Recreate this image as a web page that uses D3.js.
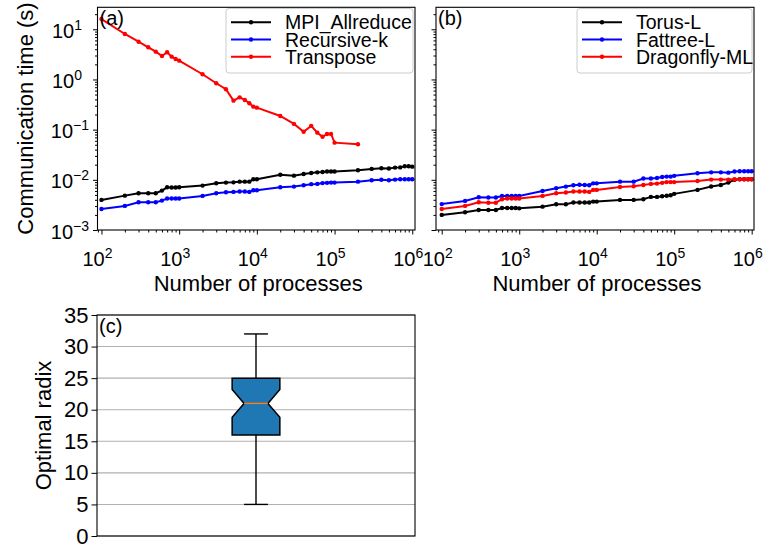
<!DOCTYPE html>
<html>
<head>
<meta charset="utf-8">
<script src="https://cdn.jsdelivr.net/npm/d3@7"></script>
<style>
  body { margin: 0; background: #fff; }
  svg { font-family: "Liberation Sans", Arial, sans-serif; }
</style>
</head>
<body>
<svg id="chart" width="768" height="545"></svg>
<script>
// process counts used by every series (transpose stops at 2e5)
const procs = [
  100, 200, 300, 400, 500, 600, 700, 800, 900,
  1000, 2000, 3000, 4000, 5000, 6000, 7000, 8000, 9000,
  10000, 20000, 30000, 40000, 50000, 60000, 70000, 80000, 90000,
  100000, 200000, 300000, 400000, 500000, 600000, 700000, 800000, 900000,
  1000000
];

// panel (a)
const mpiAllreduce = [
  0.00398, 0.00484, 0.0054, 0.0054, 0.0054, 0.0061, 0.0071, 0.00705, 0.00705,
  0.0071, 0.00767, 0.00855, 0.0088, 0.0089, 0.0092, 0.0092, 0.0092, 0.0103,
  0.0103, 0.0126, 0.0121, 0.0131, 0.0137, 0.0141, 0.0143, 0.0146, 0.0146,
  0.0146, 0.0155, 0.0165, 0.0170, 0.0168, 0.0175, 0.0177, 0.0186, 0.0186,
  0.0183
];
const recursiveK = [
  0.00263, 0.00302, 0.00357, 0.00357, 0.00357, 0.00385, 0.00423, 0.00423, 0.00423,
  0.00423, 0.00478, 0.0054, 0.00566, 0.00575, 0.00584, 0.00584, 0.00575, 0.0062,
  0.0062, 0.0071, 0.00733, 0.0078, 0.0082, 0.0083, 0.0086, 0.0087, 0.0088,
  0.0088, 0.0092, 0.0098, 0.0100, 0.0098, 0.0101, 0.0103, 0.0103, 0.0103,
  0.0103
];
const transpose = [
  16.0, 8.06, 5.66, 4.38, 3.58, 2.94, 3.48, 2.85, 2.56,
  2.37, 1.27, 0.84, 0.64, 0.378, 0.44, 0.39, 0.336, 0.287,
  0.274, 0.187, 0.130, 0.091, 0.119, 0.087, 0.072, 0.082, 0.082,
  0.055, 0.051
];

// panel (b)
const torusL = [
  0.0020, 0.00226, 0.00251, 0.00251, 0.00251, 0.00275, 0.00275, 0.00275, 0.00275,
  0.0027, 0.00292, 0.00326, 0.00326, 0.00352, 0.00352, 0.00352, 0.00352, 0.00368,
  0.00368, 0.00398, 0.00398, 0.0041, 0.00457, 0.00457, 0.00471, 0.0048, 0.00493,
  0.00525, 0.0063, 0.00734, 0.0079, 0.0088, 0.0100, 0.0103, 0.0103, 0.0103,
  0.0103
];
const fattreeL = [
  0.00328, 0.0038, 0.0045, 0.00445, 0.00445, 0.00478, 0.00478, 0.00478, 0.00478,
  0.00478, 0.0060, 0.0068, 0.00733, 0.0078, 0.0080, 0.0079, 0.0078, 0.0085,
  0.0085, 0.0092, 0.0092, 0.0106, 0.0106, 0.0109, 0.0114, 0.0116, 0.0116,
  0.0120, 0.0135, 0.0141, 0.0141, 0.0139, 0.0146, 0.0148, 0.0148, 0.0148,
  0.0148
];
const dragonflyML = [
  0.00263, 0.00302, 0.00357, 0.0035, 0.0035, 0.0041, 0.00423, 0.00423, 0.00423,
  0.00423, 0.00478, 0.0054, 0.0056, 0.00584, 0.00584, 0.00584, 0.00575, 0.0063,
  0.0063, 0.0072, 0.00745, 0.0079, 0.0083, 0.0084, 0.0087, 0.0090, 0.0090,
  0.0090, 0.0095, 0.0101, 0.0101, 0.0101, 0.0103, 0.0103, 0.0103, 0.0103,
  0.0103
];

// panel (c): whisker low, q1, median, q3, whisker high
const radixBox = [5, 16, 21, 25, 32];
const radixNotch = [18.8, 23.2];
const radixTicks = [0, 5, 10, 15, 20, 25, 30, 35];

const xMajor = [2, 3, 4, 5, 6];
const yMajor = [-3, -2, -1, 0, 1];

const svg = d3.select("#chart");
const fs = 20;      // tick labels
const labelFs = 22; // axis titles

const y = d3.scaleLog().domain([1e-3, Math.pow(10, 1.438)]).range([230, 7.3]);

function minorTicks(domain) {
  const out = [];
  for (let e = -4; e <= 7; e++) {
    for (let m = 2; m <= 9; m++) {
      const v = m * Math.pow(10, e);
      if (v >= domain[0] && v <= domain[1]) out.push(v);
    }
  }
  return out;
}

function powLabel(sel, exp) {
  sel.append("tspan").text("10");
  sel.append("tspan")
    .attr("dy", -8)
    .attr("font-size", 14)
    .text(exp < 0 ? "\u2212" + (-exp) : exp);
}

function drawLogPanel(left, right, xDomain, series, showYLabels, tag, legendX) {
  const x = d3.scaleLog().domain(xDomain).range([left, right]);
  const g = svg.append("g");
  const [top, bottom] = [y.range()[1], y.range()[0]];

  // ticks
  const xAxisMajor = d3.axisBottom(x).tickValues(xMajor.map(e => Math.pow(10, e))).tickSize(4.5).tickFormat("");
  const xAxisMinor = d3.axisBottom(x).tickValues(minorTicks(xDomain)).tickSize(2.5).tickFormat("");
  const yAxisMajor = d3.axisLeft(y).tickValues(yMajor.map(e => Math.pow(10, e))).tickSize(4.5).tickFormat("");
  const yAxisMinor = d3.axisLeft(y).tickValues(minorTicks(y.domain())).tickSize(2.5).tickFormat("");
  [[xAxisMajor, "x"], [xAxisMinor, "x"], [yAxisMajor, "y"], [yAxisMinor, "y"]].forEach(([ax, k]) => {
    g.append("g")
      .attr("transform", k === "x" ? `translate(0,${bottom})` : `translate(${left},0)`)
      .call(ax)
      .call(a => a.select(".domain").remove())
      .call(a => a.selectAll("line").attr("stroke", "#000").attr("stroke-width", 1));
  });

  // x tick labels
  xMajor.forEach(e => {
    g.append("text")
      .attr("x", x(Math.pow(10, e)) - 4)
      .attr("y", 266)
      .attr("text-anchor", "middle")
      .attr("font-size", fs)
      .call(powLabel, e);
  });

  if (showYLabels) {
    yMajor.forEach(e => {
      g.append("text")
        .attr("x", e < 0 ? 89 : 82)
        .attr("y", y(Math.pow(10, e)) + 8.5)
        .attr("text-anchor", "end")
        .attr("font-size", fs)
        .call(powLabel, e);
    });
  }

  g.append("text")
    .attr("x", (left + right) / 2 + 2)
    .attr("y", 291)
    .attr("text-anchor", "middle")
    .attr("font-size", labelFs)
    .text("Number of processes");

  // lines
  const line = d3.line().x(d => x(d[0])).y(d => y(d[1]));
  series.forEach(s => {
    const pts = s.values.map((v, i) => [procs[i], v]);
    g.append("path")
      .datum(pts)
      .attr("d", line)
      .attr("fill", "none")
      .attr("stroke", s.color)
      .attr("stroke-width", 2);
    g.selectAll(null)
      .data(pts)
      .enter()
      .append("circle")
      .attr("cx", d => x(d[0]))
      .attr("cy", d => y(d[1]))
      .attr("r", 2.2)
      .attr("fill", s.color);
  });

  // spines
  g.append("rect")
    .attr("x", left).attr("y", top)
    .attr("width", right - left).attr("height", bottom - top)
    .attr("fill", "none").attr("stroke", "#000").attr("stroke-width", 1.1);

  g.append("text")
    .attr("x", left + 2).attr("y", top + 18)
    .attr("font-size", fs)
    .text(tag);

  // legend
  const lg = g.append("g");
  lg.append("rect")
    .attr("x", legendX).attr("y", 8.5)
    .attr("width", right - 2 - legendX).attr("height", 64.5)
    .attr("rx", 3)
    .attr("fill", "#fff").attr("fill-opacity", 0.8)
    .attr("stroke", "#ccc");
  series.forEach((s, i) => {
    const ly = 22.3 + i * 17.2;
    lg.append("line")
      .attr("x1", legendX + 5).attr("x2", legendX + 45)
      .attr("y1", ly).attr("y2", ly)
      .attr("stroke", s.color).attr("stroke-width", 2);
    lg.append("circle")
      .attr("cx", legendX + 25).attr("cy", ly).attr("r", 2.2).attr("fill", s.color);
    lg.append("text")
      .attr("x", legendX + 59).attr("y", ly + 7)
      .attr("font-size", 19.5)
      .text(s.name);
  });
}

drawLogPanel(97.5, 415, [Math.pow(10, 1.949), Math.pow(10, 6.035)], [
  { name: "MPI_Allreduce", values: mpiAllreduce, color: "#000000" },
  { name: "Recursive-k", values: recursiveK, color: "#0000ff" },
  { name: "Transpose", values: transpose, color: "#ff0000" }
], true, "(a)", 226);

drawLogPanel(436, 754, [Math.pow(10, 1.926), Math.pow(10, 6.03)], [
  { name: "Torus-L", values: torusL, color: "#000000" },
  { name: "Fattree-L", values: fattreeL, color: "#0000ff" },
  { name: "Dragonfly-ML", values: dragonflyML, color: "#ff0000" }
], false, "(b)", 577);

svg.append("text")
  .attr("transform", "translate(32.5,118.5) rotate(-90)")
  .attr("text-anchor", "middle")
  .attr("font-size", labelFs)
  .text("Communication time (s)");

// panel (c) box plot
(function () {
  const left = 97, right = 415, top = 315, bottom = 536;
  const yc = d3.scaleLinear().domain([0, 35]).range([bottom, top]);
  const xc = d3.scaleLinear().domain([0.5, 1.5]).range([left, right]);
  const g = svg.append("g");

  g.selectAll(null)
    .data(radixTicks)
    .enter()
    .append("line")
    .attr("x1", left).attr("x2", right)
    .attr("y1", d => yc(d)).attr("y2", d => yc(d))
    .attr("stroke", "#b0b0b0").attr("stroke-width", 1.1);

  g.append("g")
    .attr("transform", `translate(${left},0)`)
    .call(d3.axisLeft(yc).tickValues(radixTicks).tickSize(5.5).tickPadding(3))
    .call(a => a.select(".domain").remove())
    .call(a => a.selectAll("line").attr("stroke", "#000"))
    .call(a => a.selectAll("text").attr("font-size", 22).attr("font-family", "Liberation Sans, Arial, sans-serif").attr("fill", "#000"));

  const [wLo, q1, med, q3, wHi] = radixBox;
  const [nLo, nHi] = radixNotch;
  const cx = xc(1);
  const bw = xc(1.075) - xc(0.925);
  const l = cx - bw / 2, r = cx + bw / 2, inset = bw / 4;

  // whiskers and caps
  [[q1, wLo], [q3, wHi]].forEach(([a, b]) => {
    g.append("line")
      .attr("x1", cx).attr("x2", cx).attr("y1", yc(a)).attr("y2", yc(b))
      .attr("stroke", "#000").attr("stroke-width", 1.4);
    g.append("line")
      .attr("x1", cx - bw / 4).attr("x2", cx + bw / 4).attr("y1", yc(b)).attr("y2", yc(b))
      .attr("stroke", "#000").attr("stroke-width", 1.4);
  });

  const boxPts = [
    [l, q3], [r, q3], [r, nHi], [r - inset, med], [r, nLo], [r, q1],
    [l, q1], [l, nLo], [l + inset, med], [l, nHi]
  ];
  g.append("path")
    .attr("d", d3.line().x(d => d[0]).y(d => yc(d[1]))(boxPts) + "Z")
    .attr("fill", "#1f77b4")
    .attr("stroke", "#000").attr("stroke-width", 1.5);
  g.append("line")
    .attr("x1", l + inset).attr("x2", r - inset).attr("y1", yc(med)).attr("y2", yc(med))
    .attr("stroke", "#ff7f0e").attr("stroke-width", 1.4);

  g.append("rect")
    .attr("x", left).attr("y", top)
    .attr("width", right - left).attr("height", bottom - top)
    .attr("fill", "none").attr("stroke", "#000").attr("stroke-width", 1.1);

  g.append("text")
    .attr("x", left + 2).attr("y", top + 18)
    .attr("font-size", fs)
    .text("(c)");

  svg.append("text")
    .attr("transform", `translate(51,${(top + bottom) / 2}) rotate(-90)`)
    .attr("text-anchor", "middle")
    .attr("font-size", labelFs)
    .text("Optimal radix");
})();
</script>
</body>
</html>
